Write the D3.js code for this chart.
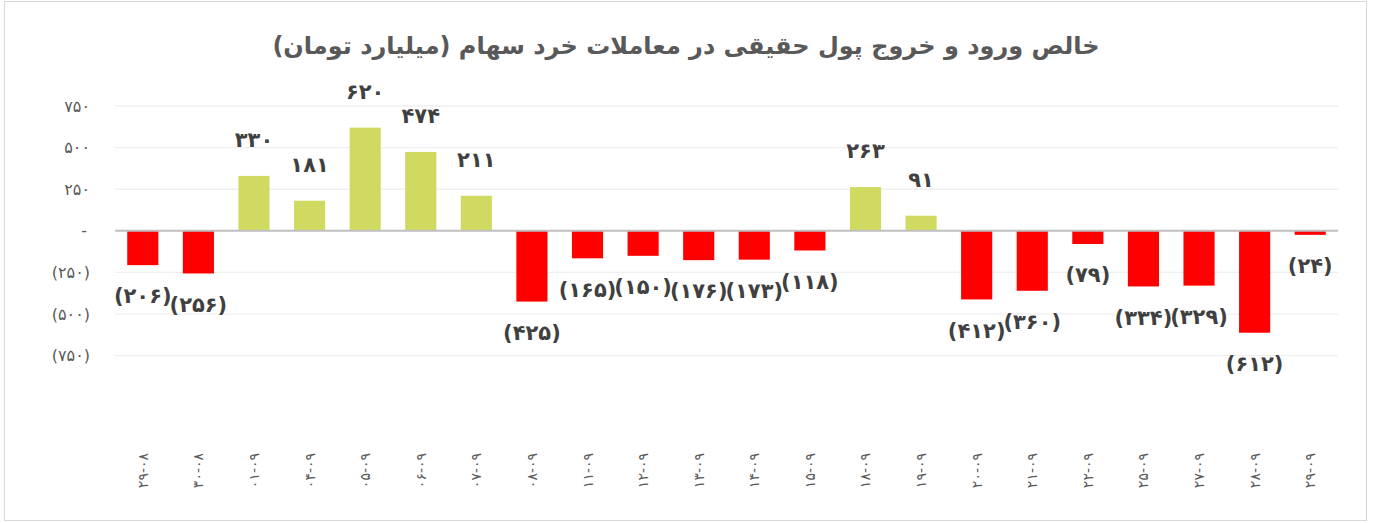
<!DOCTYPE html>
<html><head><meta charset="utf-8">
<script src="https://cdn.jsdelivr.net/npm/d3@7"></script>
<style>
html,body{margin:0;padding:0;background:#fff;}
svg{display:block;}
</style></head>
<body>
<svg id="c" width="1373" height="523"></svg>
<script>
const title = "خالص ورود و خروج پول حقیقی در معاملات خرد سهام (میلیارد تومان)";
const categories = ["۲۹-۰۸","۳۰-۰۸","۰۱-۰۹","۰۴-۰۹","۰۵-۰۹","۰۶-۰۹","۰۷-۰۹","۰۸-۰۹","۱۱-۰۹","۱۲-۰۹","۱۳-۰۹","۱۴-۰۹","۱۵-۰۹","۱۸-۰۹","۱۹-۰۹","۲۰-۰۹","۲۱-۰۹","۲۲-۰۹","۲۵-۰۹","۲۷-۰۹","۲۸-۰۹","۲۹-۰۹"];
const values = [-206,-256,330,181,620,474,211,-425,-165,-150,-176,-173,-118,263,91,-412,-360,-79,-334,-329,-612,-24];
const yTicks = [-750,-500,-250,0,250,500,750];

const faDigits = "۰۱۲۳۴۵۶۷۸۹";
const toFa = s => String(s).replace(/[0-9]/g, d => faDigits[+d]);
const fmt = v => v === 0 ? "-" : (v < 0 ? "(" + toFa(Math.abs(v)) + ")" : toFa(v));

const svg = d3.select("#c");
const font = "'DejaVu Sans', sans-serif";

svg.append("rect").attr("x",4.5).attr("y",1.5).attr("width",1362).attr("height",519)
  .attr("fill","#fff").attr("stroke","#d9d9d9").attr("stroke-width",1);

const x = d3.scaleBand().domain(categories).range([115,1338]).paddingInner(0.44).paddingOuter(0.22);
const y = d3.scaleLinear().domain([-750,750]).range([355.7,106]);

// gridlines
svg.append("g").selectAll("line").data(yTicks.filter(t=>t!==0)).join("line")
  .attr("x1",115).attr("x2",1338)
  .attr("y1",d=>y(d)).attr("y2",d=>y(d))
  .attr("stroke","#efefef").attr("stroke-width",1.3);

// y tick labels
svg.append("g").selectAll("text").data(yTicks).join("text")
  .attr("x",90).attr("y",d=>y(d)).attr("dy","0.35em")
  .attr("text-anchor","end").attr("direction","ltr")
  .attr("font-family",font).attr("font-size",16).attr("letter-spacing",3).attr("fill","#595959")
  .text(fmt);

// bars
svg.append("g").selectAll("rect").data(values).join("rect")
  .attr("x",(d,i)=>x(categories[i]))
  .attr("width",x.bandwidth())
  .attr("y",d=>y(Math.max(0,d)))
  .attr("height",d=>Math.abs(y(d)-y(0)))
  .attr("fill",d=>d>=0?"#d0da60":"#ff0000");

// zero line
svg.append("line").attr("x1",115).attr("x2",1338).attr("y1",y(0)).attr("y2",y(0))
  .attr("stroke","#bfbfbf").attr("stroke-width",2);

// data labels
svg.append("g").selectAll("text").data(values).join("text")
  .attr("x",(d,i)=>x(categories[i])+x.bandwidth()/2)
  .attr("y",d=>d>=0? y(d)-36 : y(d)+31)
  .attr("dy","0.35em")
  .attr("text-anchor","middle").attr("direction","ltr")
  .attr("font-family",font).attr("font-size",21).attr("font-weight","bold").attr("fill","#404040")
  .text(fmt);

// x labels
svg.append("g").selectAll("text").data(categories).join("text")
  .attr("transform",d=>`translate(${x(d)+x.bandwidth()/2+5},453) rotate(-90)`)
  .attr("text-anchor","end").attr("direction","ltr")
  .attr("font-family",font).attr("font-size",14).attr("letter-spacing",1).attr("fill","#595959")
  .text(d=>d);

// title
svg.append("text").attr("x",686).attr("y",46).attr("dy","0.35em")
  .attr("text-anchor","middle").attr("direction","rtl")
  .attr("font-family",font).attr("font-size",24).attr("font-weight","bold").attr("fill","#595959")
  .text(title);
</script>
</body></html>
